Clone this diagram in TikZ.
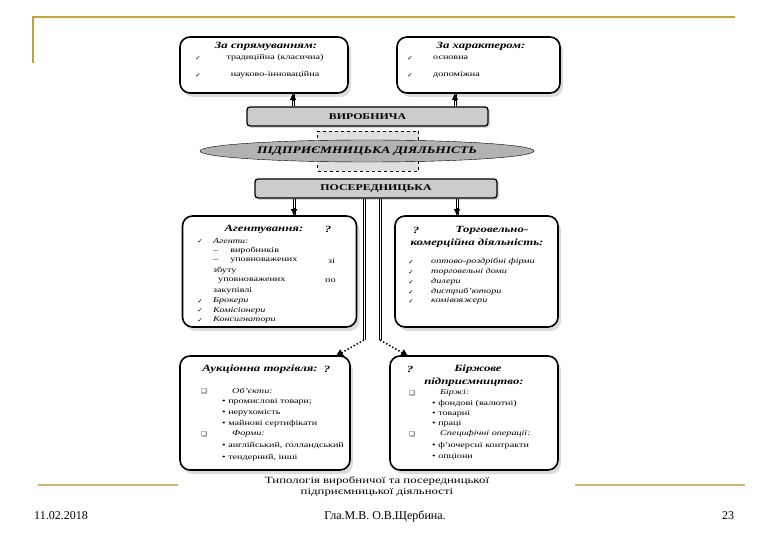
\documentclass[tikz,border=0pt]{standalone}
\usepackage{fontspec}
\setmainfont[FakeStretch=1.35]{Liberation Serif}
\newfontfamily\plainfont{Liberation Serif}
\newfontfamily\symfont{DejaVu Sans}
\usetikzlibrary{shapes.geometric, arrows.meta, positioning, calc, shadows}

\definecolor{gold}{RGB}{196,164,52}
\definecolor{sand}{RGB}{206,182,118}
\newcommand{\chk}{{\symfont\fontsize{6.5}{7}\selectfont ✓}}
\newcommand{\sqb}{{\symfont\fontsize{6.5}{7}\selectfont ❑}}

\tikzset{
  card/.style={draw, line width=1.6pt, rounded corners=10pt, fill=white, inner sep=0pt,
    drop shadow={shadow xshift=3pt, shadow yshift=-4pt, fill=gray!55}},
  bar/.style={draw, line width=1.3pt, rounded corners=3pt, fill=gray!40, inner sep=0pt,
    minimum height=19pt, font=\bfseries\fontsize{8.8}{10}\selectfont,
    drop shadow={shadow xshift=2pt, shadow yshift=-2pt, fill=gray!60}},
  ttl/.style={font=\bfseries\itshape\fontsize{9.5}{11}\selectfont, inner sep=0pt},
  txt/.style={font=\fontsize{7.5}{9}\selectfont, inner sep=0pt, anchor=west},
  itx/.style={font=\itshape\fontsize{7.5}{9}\selectfont, inner sep=0pt, anchor=west},
  twin/.style={draw=none,
    postaction={draw=black, line width=0.6pt, transform canvas={xshift=-1.1pt}},
    postaction={draw=black, line width=0.6pt, transform canvas={xshift=1.1pt}}},
  tip/.style={-{Triangle[length=6pt, width=6pt]}, line width=0.6pt},
  hop/.style={-{Triangle[length=7pt, width=7pt]}, dotted, line width=1.5pt}
}

\begin{document}
\begin{tikzpicture}[x=1pt, y=-1pt]
    \useasboundingbox (0,0) rectangle (780,540);
    % slide frame
    \draw[gold, line width=1.4pt] (33,63) -- (33,17) -- (735,17);
    \draw[sand, line width=1.6pt] (38,485) -- (178,485);
    \draw[sand, line width=1.6pt] (575,485) -- (745,485);

    % middle: activity
    \node[draw, dashed, fill=gray!25, minimum width=101pt, minimum height=40pt] (core) at (368,151) {};
    \node[draw, ellipse, fill=gray!60, minimum width=334pt, minimum height=22pt, inner sep=0pt,
          font=\bfseries\itshape\fontsize{10}{11}\selectfont] (act) at (367,151) {ПІДПРИЄМНИЦЬКА ДІЯЛЬНІСТЬ};
    \node[bar, minimum width=241pt] (prod) at (367.5,116.5) {ВИРОБНИЧА};
    \node[bar, minimum width=242pt] (medi) at (376,188.5) {ПОСЕРЕДНИЦЬКА};

    % production boxes
    \node[card, minimum width=168pt, minimum height=56pt] (dir) at (264,65) {};
    \node[ttl] at (266,46) {За спрямуванням:};
    \node[inner sep=0pt] at (198,58) {\chk};
    \node[font=\fontsize{7.5}{9}\selectfont, inner sep=0pt] at (275,58) {традиційна (класична)};
    \node[inner sep=0pt] at (198,75) {\chk};
    \node[font=\fontsize{7.5}{9}\selectfont, inner sep=0pt] at (275,75) {науково-інноваційна};

    \node[card, minimum width=163pt, minimum height=56pt] (kind) at (478.5,65) {};
    \node[ttl] at (481,46) {За характером:};
    \node[inner sep=0pt] at (410,58) {\chk};
    \node[txt] at (433,58) {основна};
    \node[inner sep=0pt] at (410,75) {\chk};
    \node[txt] at (433,75) {допоміжна};

    \coordinate (a1) at (293,0);
    \coordinate (a2) at (455,0);
    \draw[twin] (prod.north -| a1) -- (dir.south -| a1);
    \draw[twin] (prod.north -| a2) -- (kind.south -| a2);
    \draw[tip] ($(dir.south -| a1)+(0,7)$) -- (dir.south -| a1);
    \draw[tip] ($(kind.south -| a2)+(0,7)$) -- (kind.south -| a2);

    % agency
    \node[card, minimum width=174pt, minimum height=111pt] (agent) at (269.5,271.5) {};
    \node[ttl] at (264,229) {Агентування:};
    \node[ttl] at (328,229) {?};
    \node[inner sep=0pt] at (200,241) {\chk};
    \node[itx] at (213,241) {Агенти:};
    \node[txt] at (213,251) {–\hspace{12pt}виробників};
    \node[txt] at (213,261) {–\hspace{12pt}уповноважених};
    \node[txt] at (328,261) {зі};
    \node[txt] at (213,271) {збуту};
    \node[txt] at (218,281) {уповноважених};
    \node[txt] at (325,281) {по};
    \node[txt] at (213,291) {закупівлі};
    \node[inner sep=0pt] at (200,301) {\chk};
    \node[itx] at (213,301) {Брокери};
    \node[inner sep=0pt] at (200,310.5) {\chk};
    \node[itx] at (213,310.5) {Комісіонери};
    \node[inner sep=0pt] at (200,320) {\chk};
    \node[itx] at (213,320) {Консигнатори};

    % trade
    \node[card, minimum width=163pt, minimum height=111pt] (trade) at (476.5,271.5) {};
    \node[ttl] at (416,230) {?};
    \node[ttl] at (492,230) {Торговельно-};
    \node[ttl] at (477,243) {комерційна діяльність:};
    \foreach \y/\t in {262/оптово-роздрібні фірми, 272/торговельні доми, 282/дилери,
                       292/дистриб'ютори, 301/комівояжери} {
        \node[inner sep=0pt] at (411,\y) {\chk};
        \node[itx] at (431,\y) {\t};
    }

    \coordinate (b1) at (294,0);
    \coordinate (b2) at (457,0);
    \draw[twin] (medi.south -| b1) -- (agent.north -| b1);
    \draw[twin] (medi.south -| b2) -- (trade.north -| b2);
    \draw[tip] ($(agent.north -| b1)+(0,-7)$) -- (agent.north -| b1);
    \draw[tip] ($(trade.north -| b2)+(0,-7)$) -- (trade.north -| b2);

    % auction
    \node[card, minimum width=170pt, minimum height=114pt] (auct) at (265,413) {};
    \node[ttl] at (260,369) {Аукціонна торгівля:};
    \node[ttl] at (327,369) {?};
    \node[inner sep=0pt] at (204,391) {\sqb};
    \node[itx] at (232,391) {Об'єкти:};
    \node[txt] at (222,402) {• промислові товари;};
    \node[txt] at (222,413) {• нерухомість};
    \node[txt] at (222,424) {• майнові сертифікати};
    \node[inner sep=0pt] at (204,434) {\sqb};
    \node[itx] at (232,434) {Форми:};
    \node[txt] at (222,446) {• англійський, голландський};
    \node[txt] at (222,458) {• тендерний, інші};

    % exchange
    \node[card, minimum width=168pt, minimum height=114pt] (exch) at (474,413) {};
    \node[ttl] at (410,369) {?};
    \node[ttl] at (478,369) {Біржове};
    \node[ttl] at (474,382) {підприємництво:};
    \node[inner sep=0pt] at (412,393) {\sqb};
    \node[itx] at (440,393) {Біржі:};
    \foreach \y/\t in {404/фондові (валютні), 414/товарні, 424/праці} {
        \node[txt] at (432,\y) {• \t};
    }
    \node[inner sep=0pt] at (412,434) {\sqb};
    \node[itx] at (440,434) {Специфічні операції:};
    \node[txt] at (432,446) {• ф'ючерсні контракти};
    \node[txt] at (432,457) {• опціони};

    % links to lower boxes
    \coordinate (c1) at (364,340);
    \coordinate (c2) at (380,340);
    \coordinate (d1) at (336,356);
    \coordinate (d2) at (408,356);
    \draw[twin] (medi.south -| c1) -- (c1);
    \draw[twin] (medi.south -| c2) -- (c2);
    \draw[hop] (c1) -- (d1);
    \draw[hop] (c2) -- (d2);

    % caption and footer
    \node[font=\fontsize{9.5}{11}\selectfont, align=center, inner sep=0pt] (cap) at (377,487)
        {Типологія виробничої та посередницької\\підприємницької діяльності};
    \node[font=\plainfont\fontsize{12}{14}\selectfont] (date) at (61,516) {11.02.2018};
    \node[font=\plainfont\fontsize{12}{14}\selectfont] (auth) at (385,516) {Гла.М.В. О.В.Щербина.};
    \node[font=\plainfont\fontsize{12}{14}\selectfont] (page) at (728,516) {23};
\end{tikzpicture}
\end{document}
